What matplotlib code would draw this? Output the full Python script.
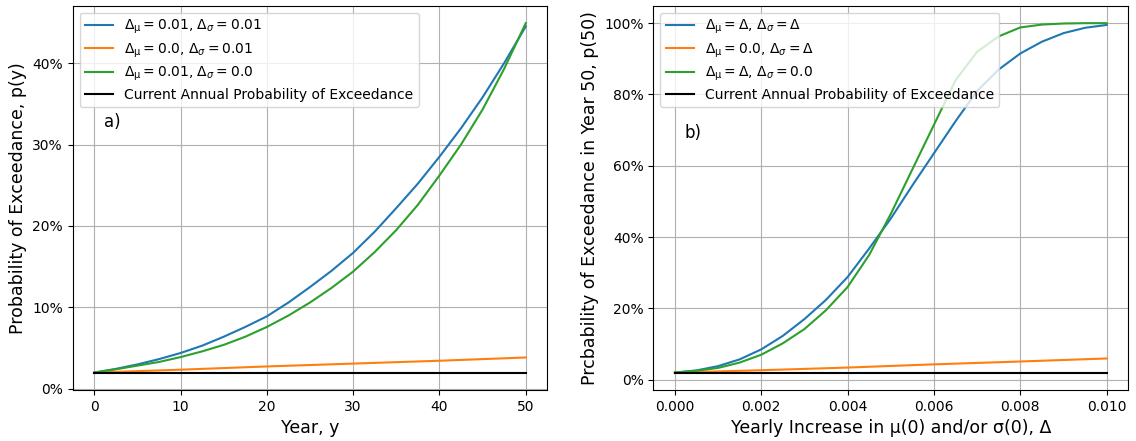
import numpy as np
import matplotlib
matplotlib.use("Agg")
import matplotlib.pyplot as plt
from matplotlib.ticker import PercentFormatter

# panel a) probability of exceedance vs year
years = [0, 2.5, 5, 7.5, 10, 12.5, 15, 17.5, 20, 22.5, 25, 27.5, 30, 32.5, 35, 37.5, 40, 42.5, 45, 47.5, 50]
p_mu_sigma = [2.0, 2.45, 3.0, 3.65, 4.4, 5.3, 6.4, 7.6, 8.9, 10.6, 12.5, 14.5, 16.7,
              19.3, 22.2, 25.2, 28.5, 32.0, 35.8, 40.0, 44.5]
p_mu_only = [2.0, 2.4, 2.85, 3.3, 3.9, 4.6, 5.4, 6.4, 7.6, 9.0, 10.6, 12.4, 14.4,
             16.8, 19.5, 22.6, 26.2, 30.0, 34.3, 39.3, 44.9]
years_coarse = [0, 10, 20, 30, 40, 50]
p_sigma_only = [2.0, 2.35, 2.75, 3.1, 3.45, 3.85]
p_current = 2.0

# panel b) probability in year 50 vs yearly increase
delta = [0.0, 0.0005, 0.001, 0.0015, 0.002, 0.0025, 0.003, 0.0035, 0.004, 0.0045, 0.005,
         0.0055, 0.006, 0.0065, 0.007, 0.0075, 0.008, 0.0085, 0.009, 0.0095, 0.010]
p50_mu_sigma = [2.0, 2.6, 3.8, 5.7, 8.5, 12.3, 17.0, 22.4, 28.8, 36.8, 45.2,
                54.5, 63.5, 72.5, 81.0, 87.0, 91.5, 94.8, 97.2, 98.7, 99.5]
p50_mu_only = [2.0, 2.5, 3.3, 4.8, 7.0, 10.2, 14.2, 19.5, 26.0, 35.0, 46.5,
               59.0, 71.5, 84.0, 92.0, 96.3, 98.8, 99.6, 99.9, 100.0, 100.0]
delta_coarse = [0.0, 0.002, 0.004, 0.006, 0.008, 0.010]
p50_sigma_only = [2.0, 2.65, 3.4, 4.3, 5.1, 5.95]

fig = plt.figure(figsize=(11.36, 4.41), dpi=100)
ax1 = fig.add_axes([0.064, 0.1156, 0.4178, 0.8715])
ax2 = fig.add_axes([0.5751, 0.1156, 0.4181, 0.8715])

fs = 10
ax1.plot(years, np.array(p_mu_sigma) / 100, label=r"$\Delta_{\mathrm{\mu}} = 0.01$, $\Delta_\sigma = 0.01$")
ax1.plot(years_coarse, np.array(p_sigma_only) / 100, label=r"$\Delta_{\mathrm{\mu}} = 0.0$, $\Delta_\sigma = 0.01$")
ax1.plot(years, np.array(p_mu_only) / 100, label=r"$\Delta_{\mathrm{\mu}} = 0.01$, $\Delta_\sigma = 0.0$")
ax1.plot([years[0], years[-1]], [p_current / 100] * 2, color="black",
         label="Current Annual Probability of Exceedance")
ax1.set_xlabel("Year, y", fontsize=12.5)
ax1.set_ylabel("Probability of Exceedance, p(y)", fontsize=12.5)
ax1.text(0.065, 0.685, "a)", transform=ax1.transAxes, fontsize=12)

ax2.plot(delta, np.array(p50_mu_sigma) / 100, label=r"$\Delta_{\mathrm{\mu}} = \Delta$, $\Delta_\sigma = \Delta$")
ax2.plot(delta_coarse, np.array(p50_sigma_only) / 100, label=r"$\Delta_{\mathrm{\mu}} = 0.0$, $\Delta_\sigma = \Delta$")
ax2.plot(delta, np.array(p50_mu_only) / 100, label=r"$\Delta_{\mathrm{\mu}} = \Delta$, $\Delta_\sigma = 0.0$")
ax2.plot([delta[0], delta[-1]], [p_current / 100] * 2, color="black",
         label="Current Annual Probability of Exceedance")
ax2.set_xlabel("Yearly Increase in μ(0) and/or σ(0), Δ", fontsize=12.5)
ax2.set_ylabel("Prcbability of Exceedance in Year 50, p(50)", fontsize=12.5)
ax2.text(0.065, 0.655, "b)", transform=ax2.transAxes, fontsize=12)

for ax in (ax1, ax2):
    ax.yaxis.set_major_formatter(PercentFormatter(1.0, decimals=0))
    ax.grid(True)
    ax.tick_params(labelsize=fs)
    ax.legend(loc="upper left", fontsize=fs, labelspacing=0.35)

fig.savefig("out.png", dpi=100)
